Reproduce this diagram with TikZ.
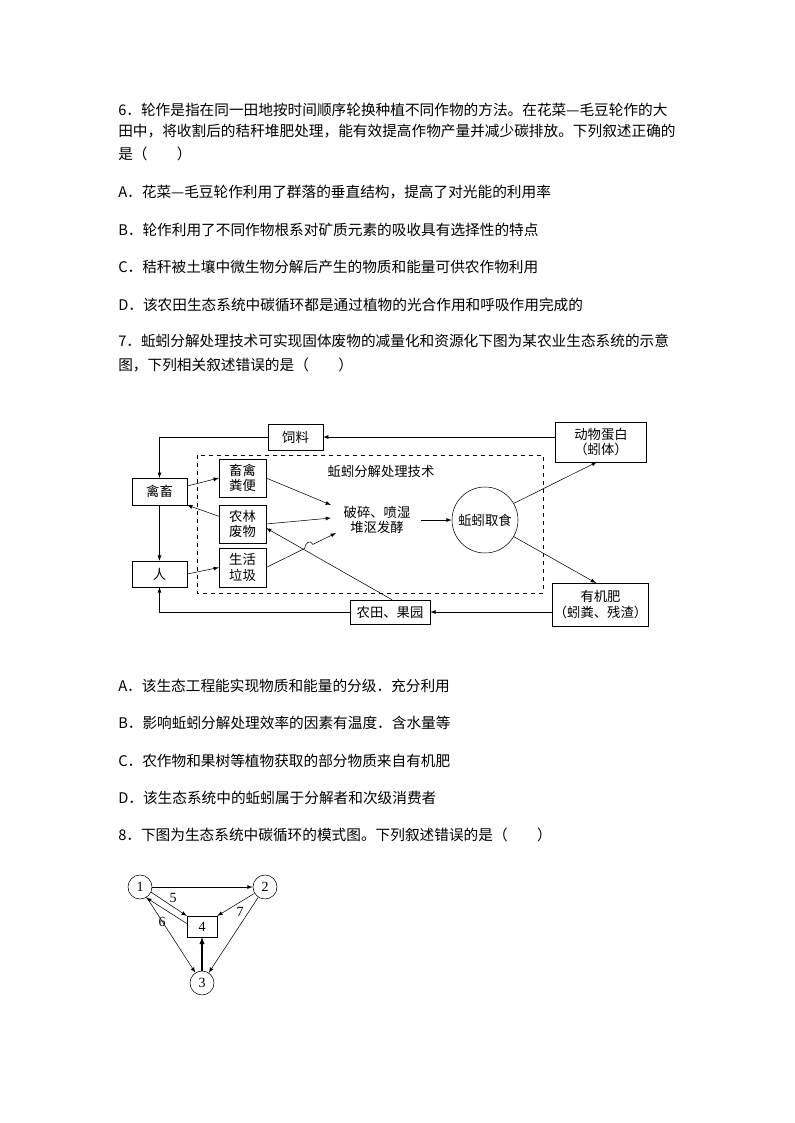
\documentclass[tikz,border=0pt]{standalone}
\usepackage{fontspec}
\setmainfont{Liberation Serif}
\newfontfamily\cjk{Noto Sans CJK SC}
\usetikzlibrary{calc}

\tikzset{
  txt/.style={anchor=west, inner sep=0pt, font=\cjk\fontsize{11}{12}\selectfont},
  box/.style={draw, align=center, inner sep=1pt, font=\cjk\fontsize{10}{11.5}\selectfont},
  lbl/.style={inner sep=0pt, font=\cjk\fontsize{10}{11.5}\selectfont},
  arr/.style={-latex, thin},
}

\begin{document}
\begin{tikzpicture}[x=0.75pt, y=-0.75pt]
    \useasboundingbox (0,0) rectangle (794,1123);

    % question text
    \node [txt] (q6a) at (118,110) {6．轮作是指在同一田地按时间顺序轮换种植不同作物的方法。在花菜—毛豆轮作的大};
    \node [txt] (q6b) at (118,131) {田中，将收割后的秸秆堆肥处理，能有效提高作物产量并减少碳排放。下列叙述正确的};
    \node [txt] (q6c) at (118,154) {是（　　）};
    \node [txt] (q6A) at (118,192) {A．花菜—毛豆轮作利用了群落的垂直结构，提高了对光能的利用率};
    \node [txt] (q6B) at (118,230) {B．轮作利用了不同作物根系对矿质元素的吸收具有选择性的特点};
    \node [txt] (q6C) at (118,267) {C．秸秆被土壤中微生物分解后产生的物质和能量可供农作物利用};
    \node [txt] (q6D) at (118,305) {D．该农田生态系统中碳循环都是通过植物的光合作用和呼吸作用完成的};
    \node [txt] (q7a) at (118,341) {7．蚯蚓分解处理技术可实现固体废物的减量化和资源化下图为某农业生态系统的示意};
    \node [txt] (q7b) at (118,365) {图，下列相关叙述错误的是（　　）};
    \node [txt] (q7A) at (118,686) {A．该生态工程能实现物质和能量的分级．充分利用};
    \node [txt] (q7B) at (118,723) {B．影响蚯蚓分解处理效率的因素有温度．含水量等};
    \node [txt] (q7C) at (118,761) {C．农作物和果树等植物获取的部分物质来自有机肥};
    \node [txt] (q7D) at (118,798) {D．该生态系统中的蚯蚓属于分解者和次级消费者};
    \node [txt] (q8) at (118,835) {8．下图为生态系统中碳循环的模式图。下列叙述错误的是（　　）};

    % earthworm diagram
    \draw [dashed] (197,455) rectangle (543,593);
    \node [lbl] (tech) at (381,471) {蚯蚓分解处理技术};
    \node [box, minimum width=41pt, minimum height=19.5pt] (feed) at (295.5,437) {饲料};
    \node [box, minimum width=41pt, minimum height=20pt] (stock) at (159.5,491.5) {禽畜};
    \node [box, minimum width=41pt, minimum height=19.5pt] (man) at (159.5,574) {人};
    \node [box, minimum width=35pt, minimum height=28.5pt] (dung) at (242.5,478) {畜禽\\粪便};
    \node [box, minimum width=35pt, minimum height=28.5pt] (waste) at (242.5,524) {农林\\废物};
    \node [box, minimum width=35pt, minimum height=29pt] (trash) at (242.5,567.5) {生活\\垃圾};
    \node [lbl, align=center] (ferm) at (377,520) {破碎、喷湿\\堆沤发酵};
    \node [draw, circle, minimum size=49.5pt, lbl] (eat) at (485,520) {蚯蚓取食};
    \node [box, minimum width=68pt, minimum height=30pt] (prot) at (601,442) {动物蛋白\\（蚓体）};
    \node [box, minimum width=71pt, minimum height=32pt] (fert) at (600.5,604.5) {有机肥\\（蚓粪、残渣）};
    \node [box, minimum width=60pt, minimum height=18pt] (farm) at (390,612) {农田、果园};

    \draw [arr] (prot.west |- feed) -- (feed.east);
    \draw [arr] (feed.west) -| (stock.north);
    \draw [arr] (stock.south) -- (man.north);
    \draw [arr] (man.east) -- (trash.west);
    \draw [arr] (farm.west) -| (man.south);
    \draw [arr] (fert.west |- farm) -- (farm.east);
    \draw [arr] ($(stock.north east)!0.3!(stock.south east)$) -- (dung.west);
    \draw [arr] ($(waste.north west)!0.3!(waste.south west)$) -- (stock.south east);
    \draw [arr] (dung.east) -- (331,505);
    \draw [arr] (waste.east) -- (331,518);
    \draw [arr] (trash.east) -- ($(trash.east)!0.55!(336,533)$)
        .. controls +(1,-6) and +(-3,-5) .. ($(trash.east)!0.67!(336,533)$) -- (336,533);
    \draw [arr] (farm.north) ++(2,0) coordinate (fn) -- ($(waste.east)+(0,4)$);
    \draw [arr] (421,520) -- (eat.west);
    \draw [arr] (eat.30) -- (597,462);
    \draw [arr] (eat.-30) -- (596,583);

    % carbon cycle diagram
    \begin{scope}[every node/.style={lbl, font=\fontsize{10.5}{11}\selectfont}]
        \node [draw, circle, minimum size=18pt] (c1) at (140,887) {1};
        \node [draw, circle, minimum size=18pt] (c2) at (265,887) {2};
        \node [draw, circle, minimum size=18pt] (c3) at (202,983) {3};
        \node [draw, minimum width=22.5pt, minimum height=15.5pt] (c4) at (202,926.5) {4};
        \draw [arr] (c1) -- (c2);
        \draw [arr] (c1.-25) -- (c4.north west);
        \draw [arr] ($(c4.west)+(0,-3)$) -- (c1.-60);
        \draw [arr] (c2) -- (c4.north east);
        \draw [arr] (c1) -- (c3);
        \draw [arr] (c2) -- (c3);
        \draw [-latex, thick] (c3) -- (c4);
        \node (n5) at (173,898) {5};
        \node (n6) at (162,922) {6};
        \node (n7) at (240,912) {7};
    \end{scope}
\end{tikzpicture}
\end{document}
